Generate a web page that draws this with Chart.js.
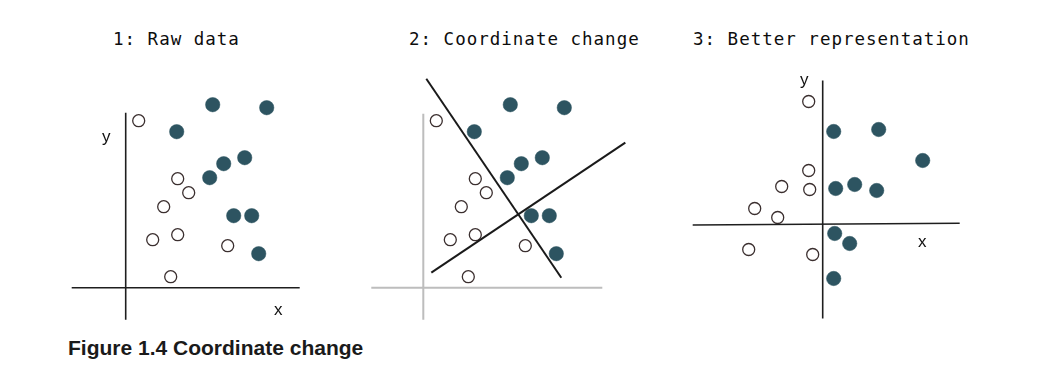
<!DOCTYPE html>
<html>
<head>
<meta charset="utf-8">
<script src="https://cdn.jsdelivr.net/npm/chart.js@4/dist/chart.umd.min.js"></script>
<style>
    body { margin: 0; width: 1052px; height: 382px; background: #fff; position: relative; overflow: hidden; }
    canvas { position: absolute; }
    .title { position: absolute; top: 29px; font-family: 'DejaVu Sans Mono', monospace; font-size: 17.5px; letter-spacing: 1px; color: #0d0d0d; white-space: nowrap; }
    .lbl { position: absolute; font-family: 'Liberation Sans', Arial, sans-serif; font-size: 17px; color: #111; line-height: 1; }
    .caption { position: absolute; left: 68px; top: 336px; font-family: 'Liberation Sans', Arial, sans-serif; font-weight: bold; font-size: 21px; color: #1a1a1a; }
</style>
</head>
<body>
<div class="title" style="left:113px">1: Raw data</div>
<div class="title" style="left:409px">2: Coordinate change</div>
<div class="title" style="left:693px">3: Better representation</div>

<canvas id="raw" width="260" height="260" style="left:60px; top:70px"></canvas>
<canvas id="change" width="280" height="260" style="left:360px; top:70px"></canvas>
<canvas id="better" width="300" height="260" style="left:680px; top:70px"></canvas>

<span class="lbl" style="left:102px; top:128px">y</span>
<span class="lbl" style="left:274px; top:301px">x</span>
<span class="lbl" style="left:800px; top:71px">y</span>
<span class="lbl" style="left:918px; top:233px">x</span>

<div class="caption">Figure 1.4 Coordinate change</div>

<script>
// Raw data (panels 1 and 2), [x, y] relative to the drawn origin
const rawHollow = [[13, 167], [52, 109], [63, 95], [38, 81], [27, 48], [52, 53], [102, 42], [45, 11]];
const rawFilled = [[87, 183], [141, 180], [51, 156], [98, 124], [119, 130], [84, 110], [108, 72], [126, 72], [133, 34]];

// Axes drawn in panels 1 and 2
const rawAxisX = [[-54, 0], [174, 0]];
const rawAxisY = [[0, 175], [0, -32]];
const changeAxisX = [[-52, 0], [179, 0]];
const changeAxisY = [[0, 174], [0, -32]];

// New coordinate lines in panel 2
const newAxisA = [[3, 209], [138, 10]];
const newAxisB = [[8, 15], [202, 145]];

// Panel 3, data in the new coordinates
const betterHollow = [[-14, 123], [-14, 54], [-41, 38], [-13, 35], [-68, 16], [-45, 7], [-74, -25], [-10, -30]];
const betterFilled = [[11, 93], [56, 95], [100, 64], [13, 36], [32, 40], [54, 34], [12, -9], [27, -19], [11, -54]];
const betterAxisX = [[-130, -0.5], [137, 1.2]];
const betterAxisY = [[0, 144], [0, -94]];

const FILL = '#2d5461';
const RING = '#3b2f2f';

const toXY = arr => arr.map(([x, y]) => ({ x, y }));

const dots = (hollow, filled) => [
    {
        data: toXY(hollow),
        pointRadius: 6,
        pointBackgroundColor: '#fff',
        pointBorderColor: RING,
        pointBorderWidth: 1.3,
        showLine: false
    },
    {
        data: toXY(filled),
        pointRadius: 7.2,
        pointBackgroundColor: FILL,
        pointBorderColor: FILL,
        pointBorderWidth: 0.5,
        showLine: false
    }
];

const line = (pts, color, width) => ({
    data: toXY(pts),
    showLine: true,
    pointRadius: 0,
    borderColor: color,
    borderWidth: width,
    fill: false
});

const makeChart = (id, datasets, xr, yr) => new Chart(document.getElementById(id), {
    type: 'scatter',
    data: { datasets },
    options: {
        responsive: false,
        animation: false,
        layout: { padding: 0, autoPadding: false },
        plugins: { legend: { display: false }, tooltip: { enabled: false } },
        scales: {
            x: { type: 'linear', display: false, min: xr[0], max: xr[1] },
            y: { type: 'linear', display: false, min: yr[0], max: yr[1] }
        }
    }
});

makeChart('raw', [
    line(rawAxisX, '#1e1e1e', 1.6),
    line(rawAxisY, '#1e1e1e', 1.6),
    ...dots(rawHollow, rawFilled)
], [-65.7, 194.3], [-42.3, 217.7]);

makeChart('change', [
    line(changeAxisX, '#bdbdbd', 2),
    line(changeAxisY, '#bdbdbd', 2),
    line(newAxisA, '#1a1a1a', 2),
    line(newAxisB, '#1a1a1a', 2),
    ...dots(rawHollow, rawFilled)
], [-63.3, 216.7], [-42.3, 217.7]);

makeChart('better', [
    line(betterAxisX, '#1e1e1e', 1.6),
    line(betterAxisY, '#1e1e1e', 1.6),
    ...dots(betterHollow, betterFilled)
], [-142.7, 157.3], [-105.5, 154.5]);
</script>
</body>
</html>
